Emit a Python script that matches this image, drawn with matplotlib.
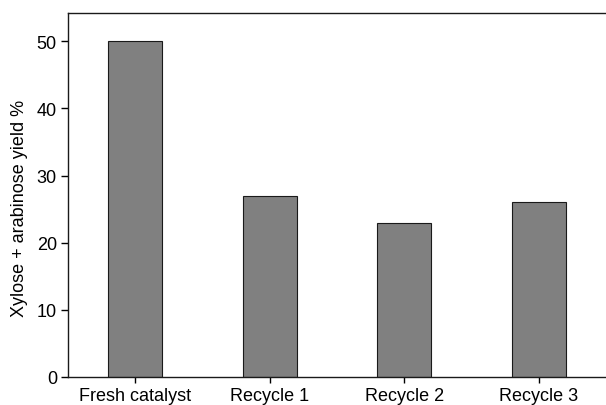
import matplotlib
matplotlib.use("Agg")
import matplotlib.pyplot as plt

categories = ["Fresh catalyst", "Recycle 1", "Recycle 2", "Recycle 3"]
yields = [50, 27, 23, 26]
yticks = [0, 10, 20, 30, 40, 50]

plt.rcParams['font.family'] = ['Liberation Sans', 'DejaVu Sans']

fig = plt.figure(figsize=(6.06, 4.06), dpi=100)
ax = fig.add_axes([68/606, 28/406, (606-68)/606, (378-14)/406])

x = list(range(len(categories)))
ax.bar(x, yields, width=0.4, color="#808080", edgecolor="#1a1a1a", linewidth=0.8)

ax.set_xlim(-0.5, 3.5)
ax.set_ylim(0, 54.2)
ax.set_xticks(x)
ax.set_xticklabels(categories, fontsize=13)
ax.set_yticks(yticks)
ax.set_yticklabels([str(t) for t in yticks], fontsize=13)
ax.set_ylabel("Xylose + arabinose yield %", fontsize=13)
ax.yaxis.set_label_coords(-0.074, 0.467)

ax.spines['right'].set_visible(False)
for s in ['left', 'bottom', 'top']:
    ax.spines[s].set_linewidth(1.0)
    ax.spines[s].set_color("#1a1a1a")
ax.tick_params(axis='y', direction='out', length=5, width=1.0, pad=3)
ax.tick_params(axis='x', direction='out', length=4, width=1.0, pad=3)

fig.savefig("out.png", dpi=100)
